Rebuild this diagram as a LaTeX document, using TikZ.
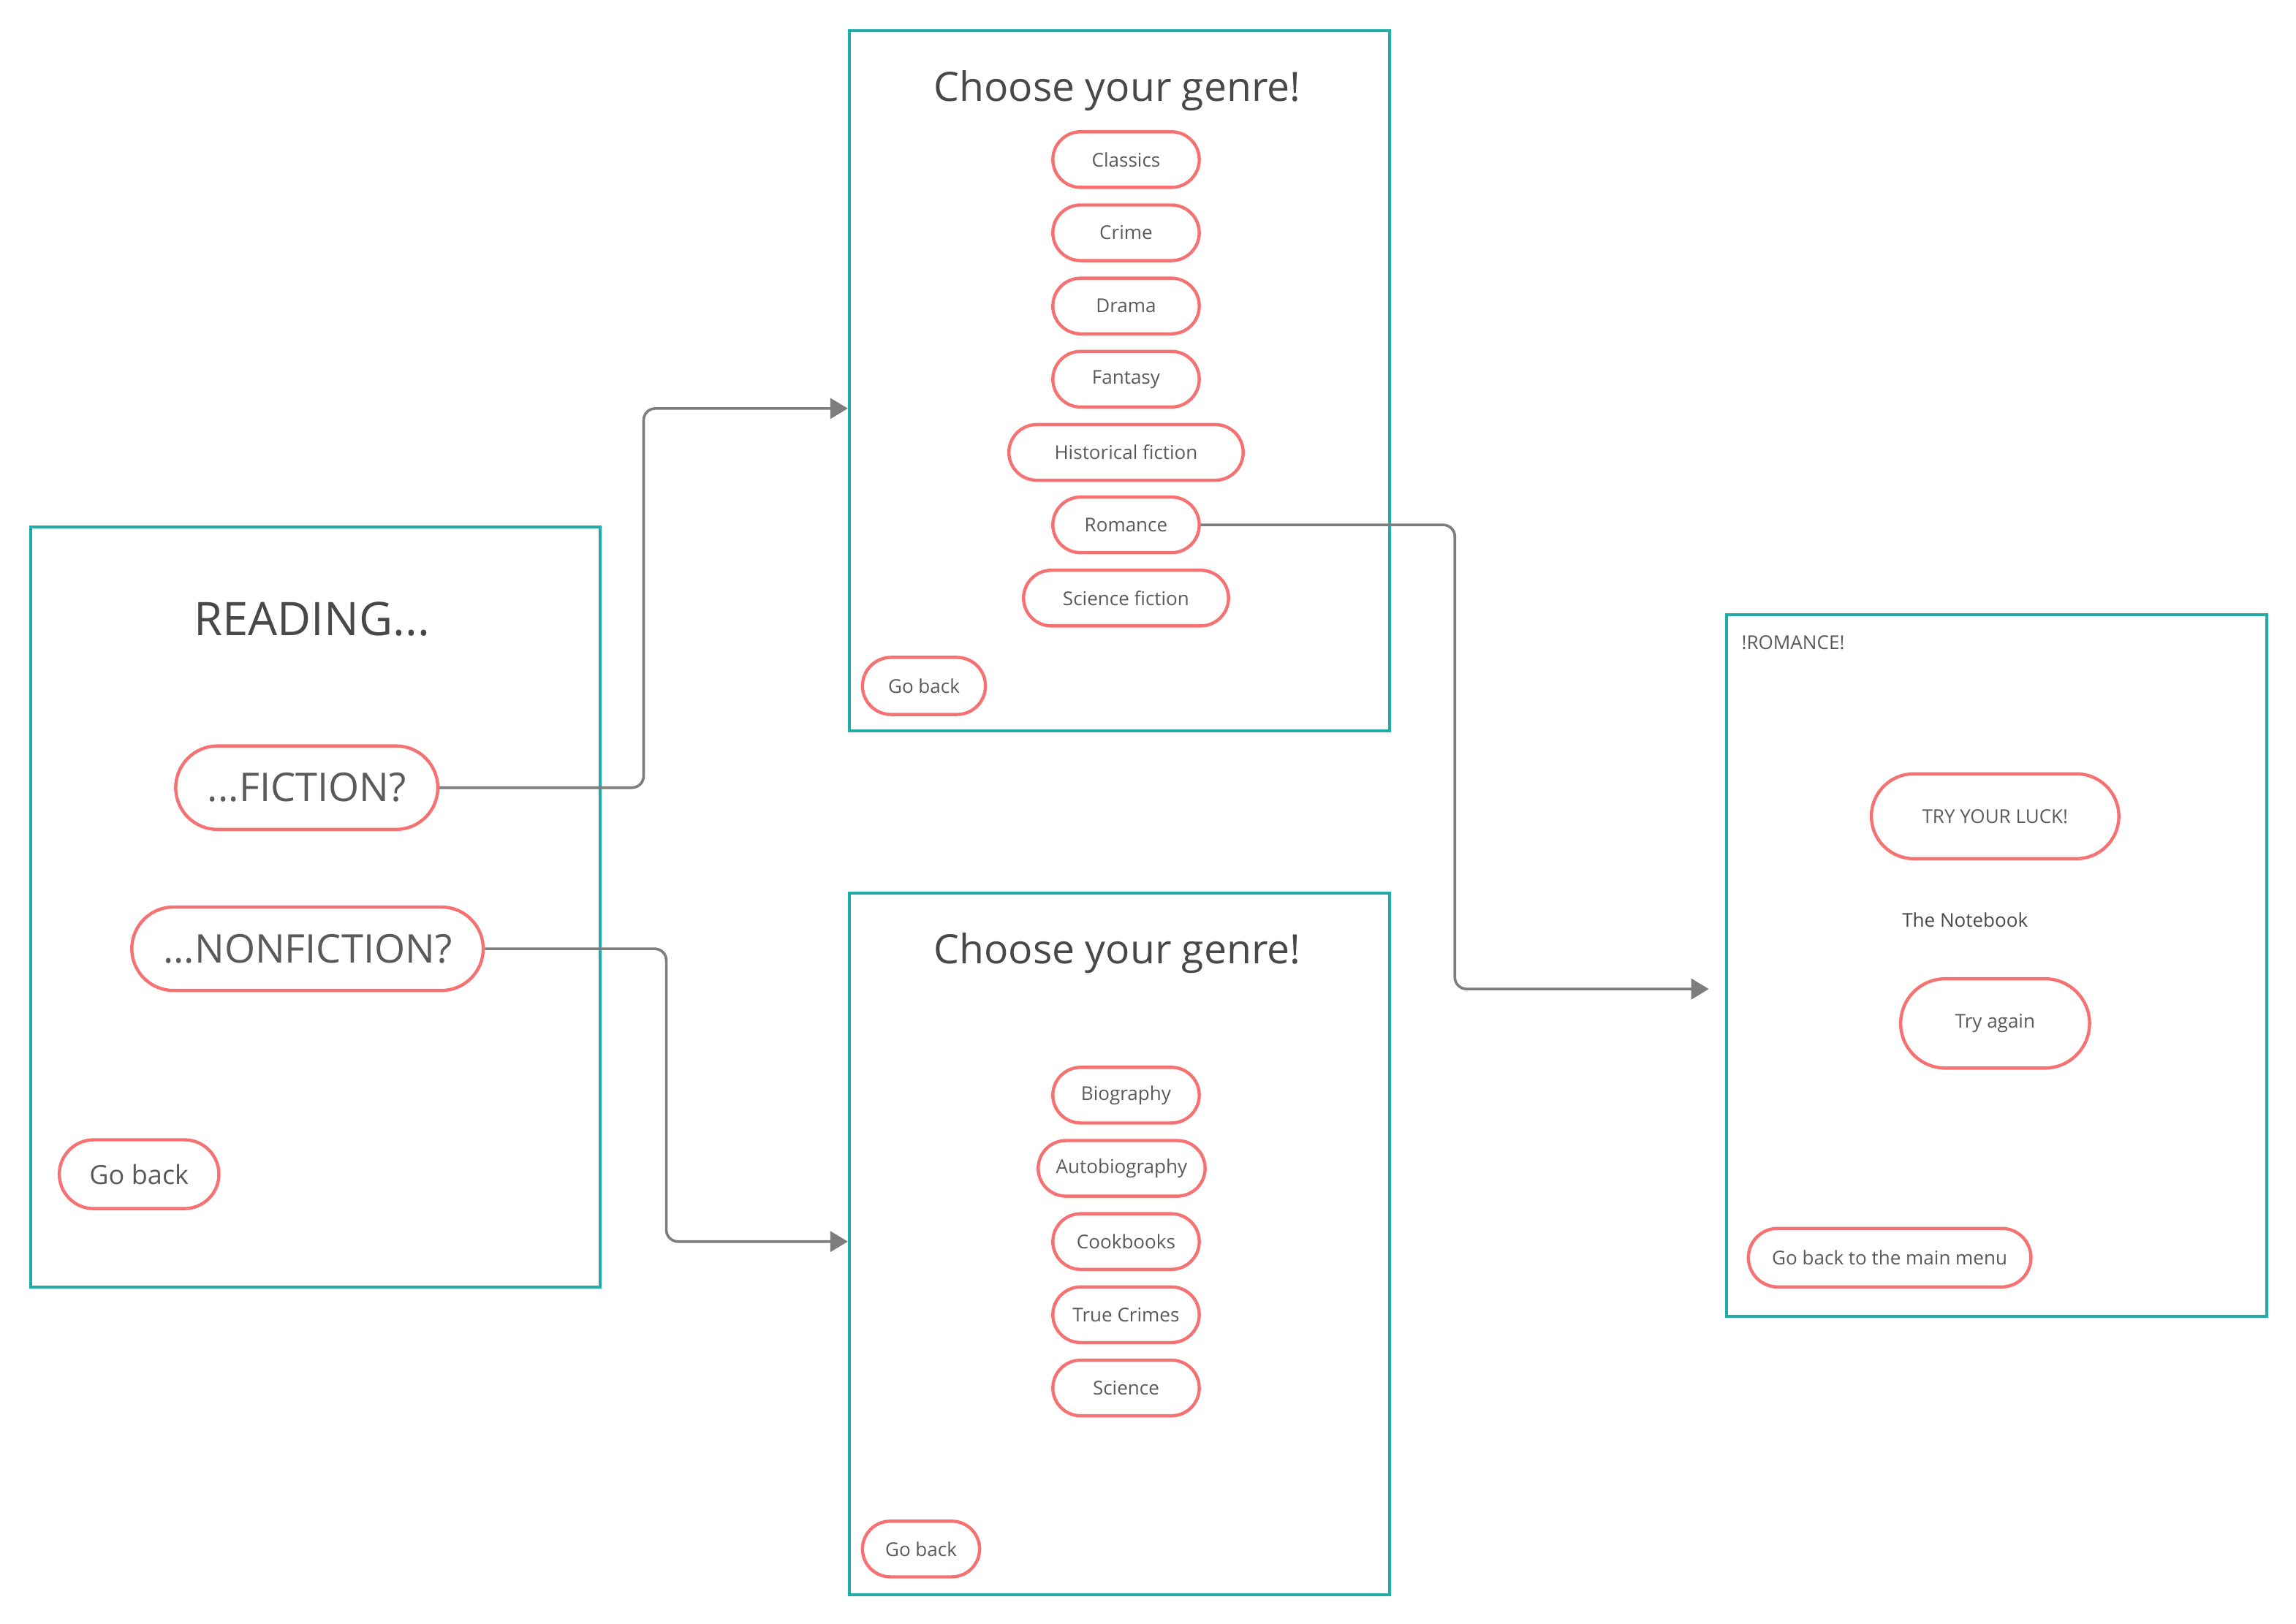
\documentclass[tikz,border=0pt]{standalone}
\usepackage{fontspec}
\setmainfont{Open Sans}
\usetikzlibrary{shapes.misc,arrows.meta,calc}

\definecolor{frameteal}{RGB}{32,173,168}
\definecolor{pillred}{RGB}{246,114,114}
\definecolor{linkgray}{RGB}{125,125,125}
\definecolor{textgray}{RGB}{90,90,90}
\definecolor{titlegray}{RGB}{72,72,72}

\tikzset{
  frame/.style={draw=frameteal, line width=1pt, inner sep=0pt, anchor=north west},
  pill/.style={rounded rectangle, draw=pillred, line width=1.1pt, text=textgray,
    font=\fontsize{6.5}{8}\selectfont, minimum width=52pt, minimum height=19pt, inner sep=1pt},
  bigpill/.style={pill, font=\fontsize{13.5}{16}\selectfont, minimum height=28.5pt},
  heading/.style={text=titlegray, inner sep=0pt},
  link/.style={draw=linkgray, line width=0.9pt, rounded corners=4pt,
    -{Triangle[length=6pt,width=7pt]}}
}

\begin{document}
\begin{tikzpicture}[x=0.5pt,y=0.5pt,yscale=-1,xscale=1]
\useasboundingbox (0,0) rectangle (1568,1109);

%Shape: Frames
\node (start) [frame, minimum width=194.5pt, minimum height=259.5pt] at (20,359) {};
\node (fic) [frame, minimum width=184.5pt, minimum height=239pt] at (579,20) {};
\node (nonfic) [frame, minimum width=184.5pt, minimum height=239.5pt] at (579,609) {};
\node (result) [frame, minimum width=184.5pt, minimum height=239.5pt] at (1178,419) {};

% Text Node
\node (readtitle) [heading, font=\fontsize{15.8}{18}\selectfont] at (213,423) {READING...};
\node (fiction) [bigpill, minimum width=91.5pt] at (209.5,538) {...FICTION?};
\node (nonfiction) [bigpill, minimum width=122pt] at (210,648) {...NONFICTION?};
\node (startback) [pill, font=\fontsize{9}{11}\selectfont, minimum width=56.5pt, minimum height=23.5pt] at (95,802) {Go back};

% Text Node
\node (fictitle) [heading, font=\fontsize{13.8}{17}\selectfont] at (763,62) {Choose your genre!};
\node (classics) [pill] at (769,109) {Classics};
\node (crime) [pill] at (769,159) {Crime};
\node (drama) [pill] at (769,209) {Drama};
\node (fantasy) [pill] at (769,259) {Fantasy};
\node (historical) [pill, minimum width=82pt] at (769,309) {Historical fiction};
\node (romance) [pill] at (769,358.5) {Romance};
\node (scifi) [pill, minimum width=72pt] at (769,408.5) {Science fiction};
\node (ficback) [pill, minimum width=44pt, minimum height=19.5pt] at (631,468.5) {Go back};

% Text Node
\node (nonfictitle) [heading, font=\fontsize{13.8}{17}\selectfont] at (763,651) {Choose your genre!};
\node (biography) [pill] at (769,748) {Biography};
\node (autobiography) [pill, minimum width=59pt] at (766,798) {Autobiography};
\node (cookbooks) [pill] at (769,848) {Cookbooks};
\node (truecrimes) [pill] at (769,898) {True Crimes};
\node (science) [pill] at (769,948) {Science};
\node (nonficback) [pill, minimum width=42pt] at (629,1058) {Go back};

% Text Node
\node (resulttitle) [heading, anchor=west, text=textgray, font=\fontsize{6.5}{8}\selectfont] at (1189,439) {!ROMANCE!};
\node (luck) [pill, minimum width=86.5pt, minimum height=29pt] at (1362.5,557.5) {TRY YOUR LUCK!};
\node (book) [heading, text=titlegray, font=\fontsize{6.5}{8}\selectfont] at (1342,628.5) {The Notebook};
\node (again) [pill, minimum width=66.5pt, minimum height=30.5pt] at (1362.5,699) {Try again};
\node (mainmenu) [pill, minimum width=98.5pt, minimum height=20pt] at (1290.5,859) {Go back to the main menu};

%Straight Lines
\coordinate (ficin) at (579,279);
\coordinate (nonficin) at (579,848);
\coordinate (resultin) at (1167,675.5);
\draw [link] (fiction.east) -| ($(fiction.east)!0.5!(ficin)$) |- (ficin);
\draw [link] (nonfiction.east) -| ($(nonfiction.east)!0.5!(nonficin)$) |- (nonficin);
\draw [link] (romance.east) -| ($(romance.east)!0.5!(resultin)$) |- (resultin);

\end{tikzpicture}
\end{document}
